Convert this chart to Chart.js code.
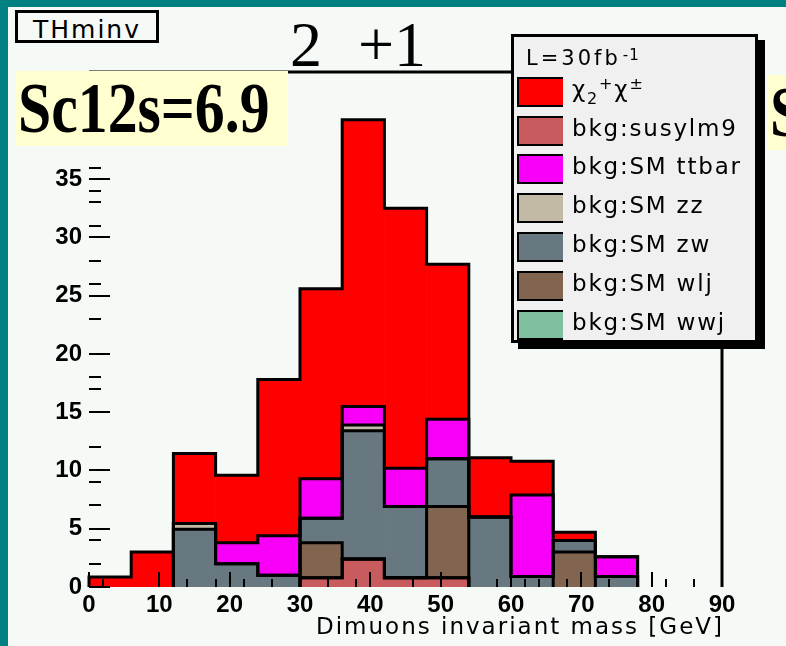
<!DOCTYPE html>
<html>
<head>
<meta charset="utf-8">
<script src="https://cdn.jsdelivr.net/npm/chart.js@4.4.1/dist/chart.umd.min.js"></script>
<style>
  html, body { margin: 0; padding: 0; width: 786px; height: 646px; overflow: hidden; background: #008080; }
  #pad { position: absolute; left: 8px; top: 7px; width: 778px; height: 639px; background: #f5faf7; }
  #chartBox { position: absolute; left: 0; top: 0; width: 786px; height: 646px; }
  #hname {
    position: absolute; left: 15px; top: 10px; width: 144px; height: 33px; box-sizing: border-box;
    border: 3px solid #000; background: #f5faf7; overflow: hidden;
    font: 25px "DejaVu Sans"; letter-spacing: 2px; line-height: 27px; padding-top: 3px; text-align: center;
  }
  #title { position: absolute; left: 290px; top: 13px; font: 64px "Liberation Serif"; line-height: 64px; white-space: nowrap; }
  #title span { margin-left: 36px; }
  .sbox {
    position: absolute; background: #ffffd0; overflow: hidden; white-space: nowrap;
    font: bold 72px "Liberation Serif"; line-height: 75px; height: 75px;
  }
  .sbox span { display: inline-block; transform: scaleX(0.83); transform-origin: left center; }
  #s1 { left: 15px; top: 71px; width: 273px; padding-left: 3px; box-sizing: border-box; }
  #s2 { left: 767px; top: 75px; width: 40px; padding-left: 3px; box-sizing: border-box; }
  #legend {
    position: absolute; left: 511px; top: 34px; width: 247px; height: 309px; box-sizing: border-box;
    border: 3px solid #000; background: #f0f0f0; box-shadow: 7px 6px 0 #000;
    font-family: "DejaVu Sans"; color: #000;
  }
  #lumi { position: absolute; left: 12px; top: 11px; font-size: 21px; line-height: 21px; letter-spacing: 3px; white-space: nowrap; }
  #lumi sup { font-size: 15px; position: relative; top: -5px; vertical-align: baseline; letter-spacing: 1px; margin-left: 2px; }
  .row { position: absolute; left: 3px; height: 30px; width: 230px; }
  .sw { position: absolute; left: 0; top: 0; width: 46px; height: 30px; box-sizing: border-box; border: 2px solid #000; border-right: none; }
  .lab { position: absolute; left: 55px; top: -3px; font-size: 23px; line-height: 30px; letter-spacing: 1.8px; white-space: nowrap; }
  .lab .sb { font-size: 16px; position: relative; top: 7px; }
  .lab .sp { font-size: 16px; position: relative; top: -8px; }
  #xtitle {
    position: absolute; left: 0; top: 615px; width: 724px; text-align: right;
    font: 23px "DejaVu Sans"; letter-spacing: 2px; line-height: 23px; white-space: nowrap;
  }
</style>
</head>
<body>
<div id="pad"></div>
<div id="chartBox"><canvas id="c" width="786" height="646"></canvas></div>
<div id="hname">THminv</div>
<div id="title">2<span>+1</span></div>
<div class="sbox" id="s1"><span>Sc12s=6.9</span></div>
<div class="sbox" id="s2"><span>Sc12s</span></div>
<div id="legend"><div id="lumi">L=30fb<sup>-1</sup></div></div>
<div id="xtitle">Dimuons invariant mass [GeV]</div>

<script>
// histogram bins (GeV)
const binEdges = [0, 6, 12, 18, 24, 30, 36, 42, 48, 54, 60, 66, 72, 78, 84, 90];

// event counts per bin
const signalVals = [0.85, 3.0, 6.0, 5.8, 13.4, 16.3, 24.6, 22.3, 13.3, 5.1, 2.9, 0.7, 0, 0, 0];
const lm9Vals    = [0, 0, 0, 0, 0, 0.8, 2.4, 0.8, 0.8, 0, 0, 0, 0, 0, 0];
const ttbarVals  = [0, 0, 0, 1.8, 3.4, 3.4, 1.6, 3.3, 3.4, 0, 7.0, 0, 1.7, 0, 0];
const zzVals     = [0, 0, 0.5, 0, 0, 0, 0.5, 0, 0, 0, 0, 0, 0, 0, 0];
const zwVals     = [0, 0, 4.95, 2.0, 1.0, 2.1, 11.0, 6.1, 4.1, 6.0, 0.9, 1.0, 0.9, 0, 0];
const wljVals    = [0, 0, 0, 0, 0, 3.0, 0, 0, 6.1, 0, 0, 3.0, 0, 0, 0];
const wwjVals    = [0, 0, 0, 0, 0, 0, 0, 0, 0, 0, 0, 0, 0, 0, 0];

// tick marks
const majorXTicks = [0, 10, 20, 30, 40, 50, 60, 70, 80, 90];
const minorXTicks = [2, 14, 18, 22, 26, 34, 38, 46, 58, 62, 64, 68, 74, 82, 86];
const majorYTicks = [0, 5, 10, 15, 20, 25, 30, 35, 40];
const minorYTicks = [2, 4, 7, 9, 12, 17, 18, 23, 26, 28, 31, 33, 34, 36];

const series = {
  signal: { label: 'χ<span class="sb">2</span><span class="sp">+</span>χ<span class="sp">±</span>', data: signalVals, color: '#ff0000' },
  lm9:    { label: 'bkg:susylm9',  data: lm9Vals,   color: '#c75b5e' },
  ttbar:  { label: 'bkg:SM ttbar', data: ttbarVals, color: '#f800f8' },
  zz:     { label: 'bkg:SM zz',    data: zzVals,    color: '#c3baa6' },
  zw:     { label: 'bkg:SM zw',    data: zwVals,    color: '#687880' },
  wlj:    { label: 'bkg:SM wlj',   data: wljVals,   color: '#816550' },
  wwj:    { label: 'bkg:SM wwj',   data: wwjVals,   color: '#80c0a0' }
};
const legendOrder = ['signal', 'lm9', 'ttbar', 'zz', 'zw', 'wlj', 'wwj'];
const stackOrder = ['lm9', 'wwj', 'wlj', 'zw', 'zz', 'ttbar', 'signal']; // bottom -> top

// legend (html)
const legend = document.getElementById('legend');
legendOrder.forEach((key, i) => {
  const row = document.createElement('div');
  row.className = 'row';
  row.style.top = (39.7 + i * 38.8) + 'px';
  row.innerHTML = `<div class="sw" style="background:${series[key].color}"></div><div class="lab">${series[key].label}</div>`;
  legend.appendChild(row);
});

// ROOT-like step outlines, inward ticks and frame
const histDecor = {
  id: 'histDecor',
  afterDatasetsDraw(chart) {
    const ctx = chart.ctx;
    const xs = chart.scales.xAxis;
    const ys = chart.scales.y;
    const area = chart.chartArea;
    const base = ys.getPixelForValue(0);
    const cum = binEdges.slice(1).map(() => 0);

    ctx.save();
    ctx.strokeStyle = '#000';
    ctx.lineWidth = 3;
    ctx.lineJoin = 'miter';
    chart.data.datasets.forEach(ds => {
      ds.data.forEach((v, i) => { cum[i] += v || 0; });
      ctx.beginPath();
      let open = false;
      for (let i = 0; i < cum.length; i++) {
        const x0 = xs.getPixelForValue(binEdges[i]);
        const x1 = xs.getPixelForValue(binEdges[i + 1]);
        if (cum[i] > 0) {
          const top = ys.getPixelForValue(cum[i]);
          if (!open) { ctx.moveTo(x0, base); open = true; }
          ctx.lineTo(x0, top);
          ctx.lineTo(x1, top);
        } else if (open) {
          ctx.lineTo(x0, base);
          open = false;
        }
      }
      if (open) ctx.lineTo(xs.getPixelForValue(binEdges[binEdges.length - 1]), base);
      ctx.stroke();
    });

    // ticks
    ctx.lineWidth = 2;
    ctx.beginPath();
    majorYTicks.forEach(v => { const y = Math.round(ys.getPixelForValue(v)); ctx.moveTo(area.left, y); ctx.lineTo(area.left + 21, y); });
    minorYTicks.forEach(v => { const y = Math.round(ys.getPixelForValue(v)); ctx.moveTo(area.left, y); ctx.lineTo(area.left + 12, y); });
    majorXTicks.forEach(v => { const x = Math.round(xs.getPixelForValue(v)); ctx.moveTo(x, area.bottom); ctx.lineTo(x, area.bottom - 15); });
    minorXTicks.forEach(v => { const x = Math.round(xs.getPixelForValue(v)); ctx.moveTo(x, area.bottom); ctx.lineTo(x, area.bottom - 8); });
    ctx.stroke();

    // frame: top and right edges
    ctx.lineWidth = 3;
    ctx.beginPath();
    ctx.moveTo(area.left, area.top);
    ctx.lineTo(area.right, area.top);
    ctx.lineTo(area.right, area.bottom);
    ctx.stroke();
    ctx.restore();
  }
};

const tickFont = { family: 'Liberation Sans', size: 24, weight: 'bold' };

new Chart(document.getElementById('c'), {
  type: 'bar',
  data: {
    labels: binEdges.slice(0, -1).map((e, i) => e + '-' + binEdges[i + 1]),
    datasets: stackOrder.map(key => ({
      label: key,
      data: series[key].data.map(v => (v > 0 ? v : null)), // empty bins draw nothing
      backgroundColor: series[key].color,
      borderWidth: 0,
      barPercentage: 1,
      categoryPercentage: 1
    }))
  },
  options: {
    responsive: false,
    animation: false,
    devicePixelRatio: 1,
    layout: { padding: { left: 0, top: 72, right: 64, bottom: 0 } },
    plugins: { legend: { display: false }, tooltip: { enabled: false } },
    scales: {
      x: { type: 'category', stacked: true, display: false },
      xAxis: {
        type: 'linear', position: 'bottom', min: 0, max: 90, offset: false,
        afterFit(scale) { scale.height = 59; },
        grid: { display: false, drawTicks: false, offset: false },
        border: { display: false },
        ticks: { stepSize: 10, padding: 4, color: '#000', font: tickFont, maxRotation: 0 }
      },
      y: {
        stacked: true, min: 0, max: 44.2,
        afterFit(scale) { scale.width = 89; },
        grid: { display: false, drawTicks: false },
        border: { display: false },
        ticks: { stepSize: 5, padding: 7, color: '#000', font: tickFont, includeBounds: false }
      }
    }
  },
  plugins: [histDecor]
});
</script>
</body>
</html>
